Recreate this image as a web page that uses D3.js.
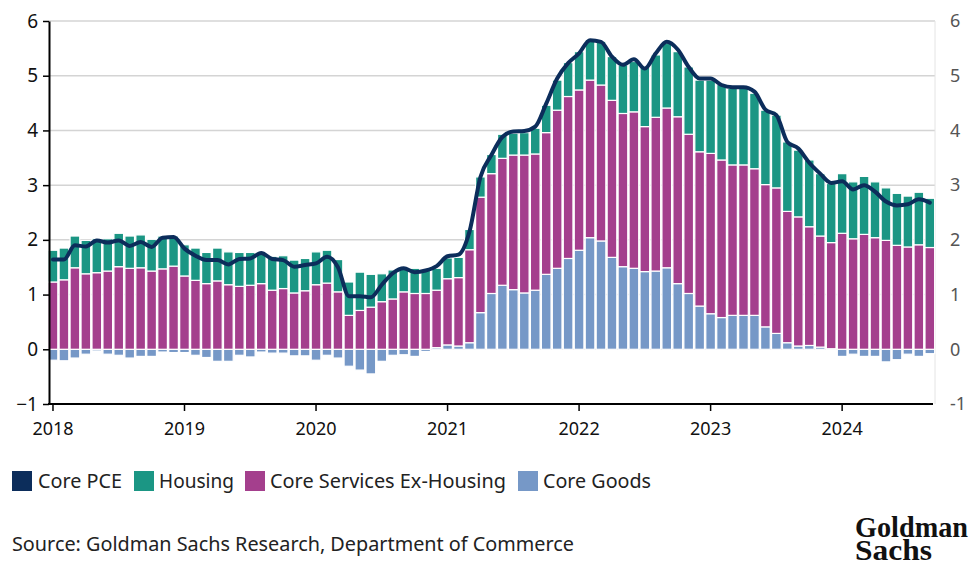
<!DOCTYPE html>
<html><head><meta charset="utf-8">
<script src="https://cdn.jsdelivr.net/npm/d3@7"></script>
<style>
body{margin:0;background:#fff}
svg{display:block}
</style>
</head><body>
<svg id="c" width="976" height="567" style="font-family:'Noto Sans',sans-serif"></svg>
<script>
// ---------- DATA ----------
const months = [
"2018-01","2018-02","2018-03","2018-04","2018-05","2018-06","2018-07","2018-08","2018-09","2018-10","2018-11","2018-12",
"2019-01","2019-02","2019-03","2019-04","2019-05","2019-06","2019-07","2019-08","2019-09","2019-10","2019-11","2019-12",
"2020-01","2020-02","2020-03","2020-04","2020-05","2020-06","2020-07","2020-08","2020-09","2020-10","2020-11","2020-12",
"2021-01","2021-02","2021-03","2021-04","2021-05","2021-06","2021-07","2021-08","2021-09","2021-10","2021-11","2021-12",
"2022-01","2022-02","2022-03","2022-04","2022-05","2022-06","2022-07","2022-08","2022-09","2022-10","2022-11","2022-12",
"2023-01","2023-02","2023-03","2023-04","2023-05","2023-06","2023-07","2023-08","2023-09","2023-10","2023-11","2023-12",
"2024-01","2024-02","2024-03","2024-04","2024-05","2024-06","2024-07","2024-08","2024-09"];

const coreGoods = [
-0.20,-0.21,-0.16,-0.09,-0.03,-0.09,-0.11,-0.16,-0.13,-0.13,-0.05,-0.06,
-0.06,-0.11,-0.15,-0.22,-0.22,-0.11,-0.14,-0.05,-0.07,-0.07,-0.12,-0.12,
-0.20,-0.11,-0.16,-0.31,-0.38,-0.45,-0.22,-0.11,-0.10,-0.13,-0.04,0.03,
0.08,0.06,0.12,0.67,1.02,1.17,1.09,1.03,1.08,1.37,1.48,1.66,
1.81,2.04,1.98,1.68,1.51,1.48,1.42,1.43,1.49,1.20,1.02,0.79,
0.65,0.58,0.62,0.62,0.62,0.41,0.29,0.12,0.06,0.07,0.04,0.01,
-0.13,-0.09,-0.13,-0.13,-0.23,-0.19,-0.09,-0.13,-0.08];

const coreServicesExHousing = [
1.23,1.27,1.49,1.38,1.40,1.43,1.51,1.48,1.49,1.43,1.47,1.52,
1.34,1.26,1.20,1.25,1.18,1.15,1.17,1.20,1.08,1.11,1.03,1.07,
1.18,1.21,1.05,0.62,0.71,0.77,0.87,0.92,1.05,1.02,1.02,1.05,
1.21,1.25,1.70,2.11,2.19,2.32,2.46,2.52,2.49,2.59,2.89,2.96,
2.93,2.88,2.85,2.87,2.80,2.86,2.65,2.81,2.92,3.05,2.91,2.82,
2.93,2.88,2.75,2.75,2.68,2.60,2.66,2.40,2.36,2.17,2.03,1.94,
2.12,2.02,2.10,2.04,1.99,1.90,1.87,1.91,1.86];

const housing = [
0.58,0.58,0.58,0.61,0.62,0.59,0.61,0.59,0.60,0.58,0.60,0.55,
0.57,0.59,0.57,0.60,0.60,0.62,0.60,0.57,0.62,0.60,0.60,0.59,
0.60,0.60,0.59,0.61,0.70,0.60,0.51,0.53,0.44,0.46,0.43,0.40,
0.38,0.37,0.37,0.37,0.35,0.44,0.40,0.41,0.47,0.50,0.55,0.62,
0.70,0.74,0.80,0.80,0.89,0.92,1.09,1.14,1.18,1.19,1.23,1.31,
1.34,1.38,1.40,1.40,1.38,1.36,1.33,1.27,1.22,1.22,1.14,1.08,
1.09,1.04,1.06,1.02,0.96,0.95,0.93,0.96,0.90];

const corePCE = [
1.64,1.64,1.90,1.88,1.99,1.95,1.99,1.89,1.96,1.87,2.04,2.05,
1.84,1.71,1.63,1.63,1.55,1.65,1.66,1.76,1.65,1.63,1.51,1.54,
1.57,1.69,1.50,0.97,0.97,0.95,1.18,1.39,1.48,1.41,1.44,1.52,
1.70,1.73,2.15,3.15,3.55,3.88,3.98,3.99,4.07,4.49,4.95,5.23,
5.41,5.65,5.62,5.35,5.20,5.30,5.13,5.41,5.62,5.48,5.16,4.95,
4.95,4.83,4.79,4.79,4.71,4.38,4.28,3.79,3.67,3.41,3.21,3.04,
3.07,2.92,3.00,2.88,2.70,2.63,2.65,2.74,2.68];

const yTicks = [-1,0,1,2,3,4,5,6];
const yearTicks = ["2018","2019","2020","2021","2022","2023","2024"];
const seriesNames = ["Core PCE","Housing","Core Services Ex-Housing","Core Goods"];
const sourceText = "Source: Goldman Sachs Research, Department of Commerce";

// ---------- STYLE ----------
const C = {pce:"#0c2d5b", housing:"#1b9684", services:"#a43f8d", goods:"#7698c7"};

const svg = d3.select("#c");
const x = d3.scaleBand().domain(months).range([47.5, 935.3]).paddingInner(0.12).paddingOuter(0.06);
const y = d3.scaleLinear().domain([-1, 6]).range([404, 21]);
const cx = m => x(m) + x.bandwidth()/2;

// grid
svg.append("g").selectAll("line").data(yTicks.filter(t => t > -1)).join("line")
  .attr("x1", 49).attr("x2", 935).attr("y1", d => y(d)).attr("y2", d => y(d))
  .attr("stroke", "#d4d4d4").attr("stroke-width", 1.5);
svg.append("line").attr("x1", 935).attr("x2", 935).attr("y1", y(6)).attr("y2", y(-1))
  .attr("stroke", "#e4e4e4").attr("stroke-width", 1);

// stacked bars
const rows = months.map((m, i) => {
  const g = coreGoods[i], s = coreServicesExHousing[i], h = housing[i];
  const base = g > 0 ? g : 0;
  return {m, segs: [
    {k:"goods", y0: 0, y1: g},
    {k:"services", y0: base, y1: base + s},
    {k:"housing", y0: base + s, y1: base + s + h}
  ]};
});
const bars = svg.append("g");
rows.forEach(r => {
  bars.selectAll(null).data(r.segs).join("rect")
    .attr("x", x(r.m)).attr("width", x.bandwidth())
    .attr("y", d => y(Math.max(d.y0, d.y1)))
    .attr("height", d => Math.abs(y(d.y0) - y(d.y1)))
    .attr("fill", d => C[d.k])
    .attr("stroke", "#fff").attr("stroke-width", 1.2);
});

// core PCE line
const line = d3.line().x((d, i) => cx(months[i])).y(d => y(d)).curve(d3.curveMonotoneX);
svg.append("path").datum(corePCE).attr("d", line)
  .attr("fill", "none").attr("stroke", C.pce).attr("stroke-width", 4)
  .attr("stroke-linejoin", "round").attr("stroke-linecap", "round");

// left axis
const yAxis = d3.axisLeft(y).tickValues(yTicks).tickFormat(d3.format("d"))
  .tickSize(6).tickSizeOuter(0).tickPadding(5);
const ga = svg.append("g").attr("transform", "translate(49,0)").call(yAxis);
ga.attr("font-family", null);
ga.select(".domain").attr("stroke", "#000").attr("stroke-width", 2);
ga.selectAll(".tick line").attr("stroke", "#000").attr("stroke-width", 1.5);
ga.selectAll(".tick text").attr("fill", "#111").style("font-size", "19px")
  .style("font-family", "'Noto Sans',sans-serif");

// right labels
svg.append("g").selectAll("text").data(yTicks).join("text")
  .attr("x", 950).attr("y", d => y(d)).attr("dy", "0.35em")
  .style("font-size", "18px").attr("fill", "#555").text(d => d);

// bottom axis
svg.append("line").attr("x1", 48).attr("x2", 933).attr("y1", 404).attr("y2", 404)
  .attr("stroke", "#000").attr("stroke-width", 2);
const xt = svg.append("g").selectAll("g").data(yearTicks).join("g")
  .attr("transform", d => `translate(${cx(d + "-01")},404)`);
xt.append("line").attr("y1", 0).attr("y2", 7).attr("stroke", "#000").attr("stroke-width", 1.5);
xt.append("text").attr("y", 31).attr("text-anchor", "middle").style("font-size", "18px")
  .attr("fill", "#111").text(d => d);

// legend
const legItems = [
  {name: seriesNames[0], c: C.pce, sx: 12, tx: 38, tw: 84},
  {name: seriesNames[1], c: C.housing, sx: 134, tx: 159, tw: 75},
  {name: seriesNames[2], c: C.services, sx: 245, tx: 270, tw: 236},
  {name: seriesNames[3], c: C.goods, sx: 518, tx: 543, tw: 108}
];
const lg = svg.append("g");
lg.selectAll("rect").data(legItems).join("rect")
  .attr("x", d => d.sx).attr("y", 471).attr("width", 20).attr("height", 20).attr("fill", d => d.c);
lg.selectAll("text").data(legItems).join("text")
  .attr("x", d => d.tx).attr("y", 488).style("font-size", "19px").attr("fill", "#222")
  .attr("textLength", d => d.tw).attr("lengthAdjust", "spacingAndGlyphs").text(d => d.name);

// source
svg.append("text").attr("x", 12).attr("y", 551).style("font-size", "19px").attr("fill", "#222")
  .attr("textLength", 562).attr("lengthAdjust", "spacingAndGlyphs").text(sourceText);

// logo
svg.append("text").attr("x", 855).attr("y", 537)
  .style("font-family", "'Liberation Serif',serif").style("font-size", "29px").style("font-weight", "bold")
  .attr("fill", "#111").attr("textLength", 113).attr("lengthAdjust", "spacingAndGlyphs").text("Goldman");
svg.append("text").attr("x", 855).attr("y", 560)
  .style("font-family", "'Liberation Serif',serif").style("font-size", "29px").style("font-weight", "bold")
  .attr("fill", "#111").attr("textLength", 77).attr("lengthAdjust", "spacingAndGlyphs").text("Sachs");
</script>
</body></html>
